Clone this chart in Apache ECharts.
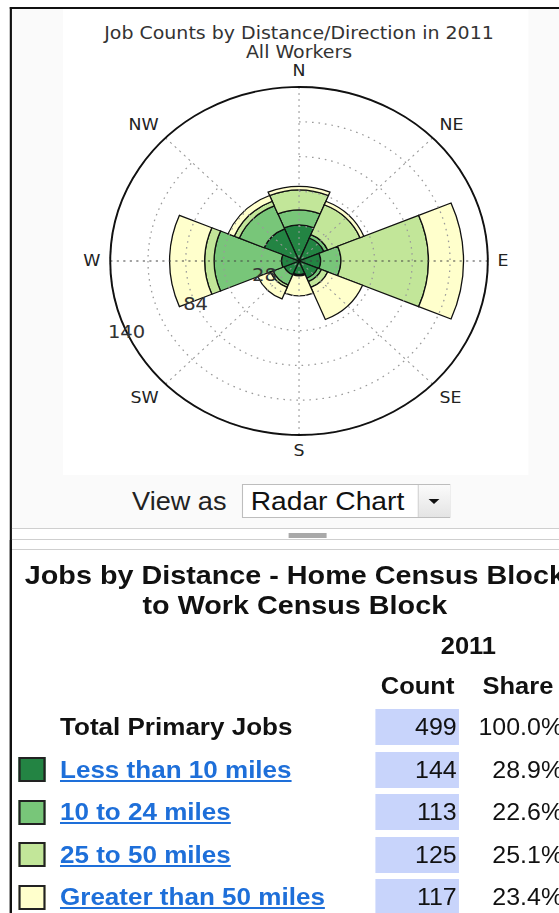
<!DOCTYPE html>
<html>
<head>
<meta charset="utf-8">
<title>Job Counts by Distance/Direction in 2011</title>
<script src="https://cdn.jsdelivr.net/npm/echarts/dist/echarts.min.js"></script>
<style>
	html, body {
		margin: 0;
		padding: 0;
		width: 559px;
		height: 913px;
		overflow: hidden;
		background: #fff;
	}
	/* the screenshot is a little wider than tall, so the page is stretched sideways */
	#page {
		position: absolute;
		left: 0;
		top: 0;
		width: 516px;
		height: 913px;
		transform: scaleX(1.085);
		transform-origin: 0 0;
		font-family: "Liberation Sans", Arial, sans-serif;
		color: #111;
	}
	.abs { position: absolute; }
	.border-top { left: 9.2px; top: 6.5px; width: 507px; height: 2px; background: #111; }
	.border-left { left: 9.2px; top: 6.5px; width: 2px; height: 907px; background: #111; }
	.panel { left: 11.2px; top: 8.5px; width: 505px; height: 519px; background: #fafafa; }
	#chart { left: 58px; top: 9px; width: 429px; height: 466px; background: #fff; }
	.view-as { left: 121.7px; top: 486px; font-size: 25px; line-height: 30px; color: #222; }
	.select { left: 223px; top: 484px; width: 190px; height: 32px; border: 1px solid #bdbdbd; background: #fff; }
	.select .txt { position: absolute; left: 7px; top: 1px; font-size: 26px; line-height: 30px; color: #111; }
	.select .btn { position: absolute; left: 161px; top: 0; width: 29px; height: 32px; border-left: 1px solid #cfcfcf;
		background: linear-gradient(#fbfbfb, #e4e4e4); }
	.select .arrow { position: absolute; left: 9px; top: 14px; width: 0; height: 0;
		border-left: 5px solid transparent; border-right: 5px solid transparent; border-top: 5px solid #111; }
	.sep { left: 11.2px; width: 505px; height: 1.5px; background: #cfcfcf; }
	.handle { left: 266px; top: 533px; width: 35px; height: 5px; background: #a9a9a9; }
	.lower { left: 11.2px; top: 550px; width: 505px; height: 363px; background: #fff; }
	.heading { left: 0; top: 560px; width: 543.5px; text-align: center; font-weight: bold; font-size: 26.5px;
		line-height: 30px; white-space: nowrap; }
	.hdr { font-weight: bold; font-size: 23.5px; line-height: 28px; white-space: nowrap; transform: translateX(-50%); }
	.row-label { left: 55.3px; font-weight: bold; font-size: 24px; line-height: 30px; white-space: nowrap; }
	.row-label a { color: #1e6fd9; text-decoration: underline; }
	.swatch { left: 17px; width: 21px; height: 21px; border: 2px solid #222; }
	.cell { left: 345.6px; width: 75.3px; height: 36px; padding-right: 2px; background: #c8d4fb; text-align: right;
		font-size: 23px; line-height: 36px; }
	.share { left: 420px; width: 99px; text-align: right; font-size: 23px; line-height: 36px; white-space: nowrap; }
</style>
</head>
<body>
<div id="page">
	<div class="abs panel"></div>
	<div class="abs border-top"></div>
	<div class="abs border-left"></div>
	<div class="abs" id="chart"></div>

	<div class="abs view-as">View as</div>
	<div class="abs select">
		<div class="txt">Radar Chart</div>
		<div class="btn"><div class="arrow"></div></div>
	</div>

	<div class="abs sep" style="top:527.5px"></div>
	<div class="abs sep" style="top:538.5px"></div>
	<div class="abs sep" style="top:548.5px"></div>
	<div class="abs handle"></div>
	<div class="abs lower"></div>
	<div class="abs border-left" style="top:540px;height:373px"></div>

	<div class="abs heading">Jobs by Distance - Home Census Block<br>to Work Census Block</div>
	<div class="abs hdr" style="left:431.7px;top:632px">2011</div>
	<div class="abs hdr" style="left:384.9px;top:672px">Count</div>
	<div class="abs hdr" style="left:477.4px;top:672px">Share</div>
	<div id="table"></div>
</div>

<script>
	// compass sectors, clockwise from north
	const directions = ['N', 'NE', 'E', 'SE', 'S', 'SW', 'W', 'NW'];

	// job counts per sector for each distance band
	const lessThan10 = [29, 20, 16, 15, 11, 12, 13, 28];
	const from10to24 = [12, 3, 15, 3, 1, 9, 50, 20];
	const from25to50 = [16, 26, 65, 5, 0, 2, 7, 4];
	const over50 = [3, 3, 26, 28, 16, 10, 26, 5];

	// radial ticks that carry a label
	const radiusLabels = [28, 84, 140];

	// table on the lower half
	const bandNames = ['Less than 10 miles', '10 to 24 miles', '25 to 50 miles', 'Greater than 50 miles'];
	const bandColors = ['#238443', '#78c679', '#c2e699', '#ffffcc'];
	const bandCounts = [144, 113, 125, 117];
	const bandShares = ['28.9%', '22.6%', '25.1%', '23.4%'];
	const totalLabel = 'Total Primary Jobs';
	const totalCount = 499;
	const totalShare = '100.0%';

	const bandValues = [lessThan10, from10to24, from25to50, over50];

	// ---- table ----
	function buildTable() {
		let html = '';
		let rows = [{ label: totalLabel, count: totalCount, share: totalShare, color: null }];
		for (let i = 0; i < bandNames.length; i++) {
			rows.push({ label: bandNames[i], count: bandCounts[i], share: bandShares[i], color: bandColors[i] });
		}
		for (let i = 0; i < rows.length; i++) {
			let mid = 727 + i * 42.5;
			let r = rows[i];
			if (r.color) {
				html += '<div class="abs swatch" style="top:' + (mid - 12.5) + 'px;background:' + r.color + '"></div>';
				html += '<div class="abs row-label" style="top:' + (mid - 15) + 'px"><a>' + r.label + '</a></div>';
			} else {
				html += '<div class="abs row-label" style="top:' + (mid - 15) + 'px">' + r.label + '</div>';
			}
			html += '<div class="abs cell" style="top:' + (mid - 18) + 'px">' + r.count + '</div>';
			html += '<div class="abs share" style="top:' + (mid - 18) + 'px">' + r.share + '</div>';
		}
		document.getElementById('table').innerHTML = html;
	}

	// ---- rose ----
	function initChart() {
		let chart = echarts.init(document.getElementById('chart'), null, { renderer: 'svg' });
		let center = [217.6, 252];
		let radius = 174;

		// E and W spokes come out darker in the original
		let spokeColors = directions.map(function (d) {
			return (d === 'E' || d === 'W') ? '#444' : '#9a9a9a';
		});

		let series = bandNames.map(function (name, i) {
			return {
				name: name,
				type: 'bar',
				coordinateSystem: 'polar',
				polarIndex: 0,
				stack: 'jobs',
				barCategoryGap: '0%',
				data: bandValues[i],
				itemStyle: {
					color: bandColors[i],
					borderColor: '#111',
					borderWidth: 1.2
				},
				silent: true
			};
		});

		let option = {
			animation: false,
			title: {
				text: 'Job Counts by Distance/Direction in 2011\nAll Workers',
				left: 217.6,
				top: 14,
				padding: 0,
				textAlign: 'center',
				textStyle: {
					fontFamily: 'DejaVu Sans',
					fontSize: 17.5,
					fontWeight: 'normal',
					color: '#333',
					lineHeight: 19
				}
			},
			polar: [
				{ center: center, radius: radius },
				// second polar: full outer ring and the radial labels WSW
				{ center: center, radius: radius }
			],
			angleAxis: [{
				polarIndex: 0,
				type: 'category',
				data: directions,
				startAngle: 90,
				boundaryGap: false,
				z: 10,
				axisLine: { show: false },
				axisTick: { show: false },
				axisLabel: {
					margin: 9,
					fontFamily: 'DejaVu Sans',
					fontSize: 16,
					lineHeight: 14,
					color: '#222'
				},
				splitLine: {
					show: true,
					lineStyle: { color: spokeColors, type: [2, 4], width: 1 }
				}
			}, {
				polarIndex: 1,
				type: 'value',
				min: 0,
				max: 360,
				startAngle: 204,
				z: 10,
				axisLine: { show: true, lineStyle: { color: '#111', width: 1.8 } },
				axisTick: { show: false },
				axisLabel: { show: false },
				splitLine: { show: false }
			}],
			radiusAxis: [{
				polarIndex: 0,
				min: 0,
				max: 140,
				interval: 28,
				z: 10,
				axisLine: { show: false },
				axisTick: { show: false },
				axisLabel: { show: false },
				splitLine: {
					show: true,
					lineStyle: { color: '#9a9a9a', type: [1.5, 4.5], width: 1.2 }
				}
			}, {
				polarIndex: 1,
				min: 0,
				max: 140,
				interval: 28,
				z: 11,
				axisLine: { show: false },
				axisTick: { show: false },
				splitLine: { show: false },
				axisLabel: {
					margin: 0,
					align: 'center',
					verticalAlign: 'middle',
					fontFamily: 'DejaVu Sans',
					fontSize: 18,
					color: '#333',
					formatter: function (v) {
						return radiusLabels.indexOf(v) > -1 ? String(v) : '';
					}
				}
			}],
			series: series
		};
		chart.setOption(option);
	}

	buildTable();
	initChart();
</script>
</body>
</html>
